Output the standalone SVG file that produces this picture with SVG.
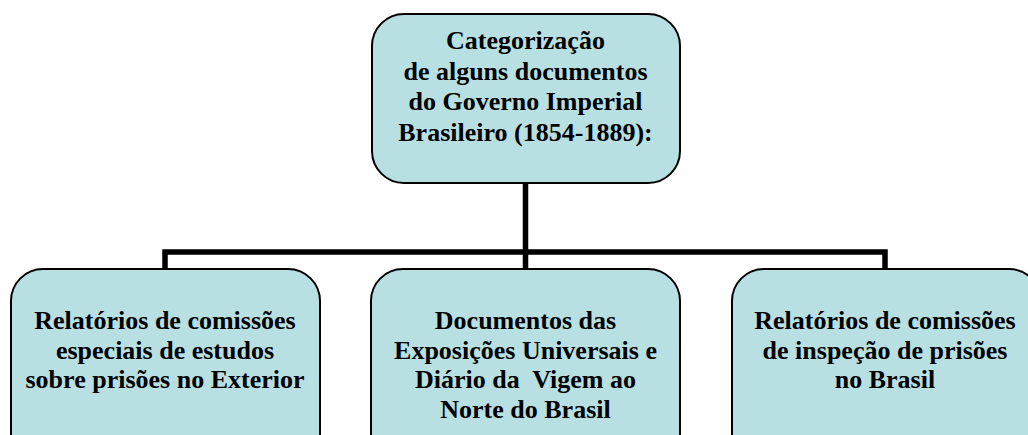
<svg xmlns="http://www.w3.org/2000/svg" width="1028" height="435" viewBox="0 0 1028 435">
<rect width="1028" height="435" fill="#fff"/>
<g id="connectors" fill="none" stroke="#000" stroke-width="5.5">
<path d="M525.5 183 V252 M165 270 V252 H885 V270 M525.5 252 V270"/>
</g>
<g id="top">
<rect x="372" y="14" width="308" height="169" rx="32" fill="#b8e0e3" stroke="#000" stroke-width="2"/>
<text x="525.5" y="49" font-family="Liberation Serif" font-size="26" font-weight="bold" text-anchor="middle">Categorização</text>
<text x="525.5" y="79.5" font-family="Liberation Serif" font-size="26" font-weight="bold" text-anchor="middle">de alguns documentos</text>
<text x="525.5" y="110" font-family="Liberation Serif" font-size="26" font-weight="bold" text-anchor="middle">do Governo Imperial</text>
<text x="525.5" y="140.5" font-family="Liberation Serif" font-size="26" font-weight="bold" text-anchor="middle">Brasileiro (1854-1889):</text>
</g>
<g id="left">
<rect x="11" y="269" width="309" height="200" rx="32" fill="#b8e0e3" stroke="#000" stroke-width="2"/>
<text x="165" y="329" font-family="Liberation Serif" font-size="26" font-weight="bold" text-anchor="middle">Relatórios de comissões</text>
<text x="165" y="358.5" font-family="Liberation Serif" font-size="26" font-weight="bold" text-anchor="middle">especiais de estudos</text>
<text x="165" y="388" font-family="Liberation Serif" font-size="26" font-weight="bold" text-anchor="middle">sobre prisões no Exterior</text>
</g>
<g id="middle">
<rect x="371" y="269" width="309" height="200" rx="32" fill="#b8e0e3" stroke="#000" stroke-width="2"/>
<text x="525.5" y="329" font-family="Liberation Serif" font-size="26" font-weight="bold" text-anchor="middle">Documentos das</text>
<text x="525.5" y="358.5" font-family="Liberation Serif" font-size="26" font-weight="bold" text-anchor="middle">Exposições Universais e</text>
<text x="525.5" y="388" font-family="Liberation Serif" font-size="26" font-weight="bold" text-anchor="middle" xml:space="preserve">Diário da  Vigem ao</text>
<text x="525.5" y="417.5" font-family="Liberation Serif" font-size="26" font-weight="bold" text-anchor="middle">Norte do Brasil</text>
</g>
<g id="right">
<rect x="732" y="269" width="309" height="200" rx="32" fill="#b8e0e3" stroke="#000" stroke-width="2"/>
<text x="885" y="329" font-family="Liberation Serif" font-size="26" font-weight="bold" text-anchor="middle">Relatórios de comissões</text>
<text x="885" y="358.5" font-family="Liberation Serif" font-size="26" font-weight="bold" text-anchor="middle">de inspeção de prisões</text>
<text x="885" y="388" font-family="Liberation Serif" font-size="26" font-weight="bold" text-anchor="middle">no Brasil</text>
</g>
</svg>
